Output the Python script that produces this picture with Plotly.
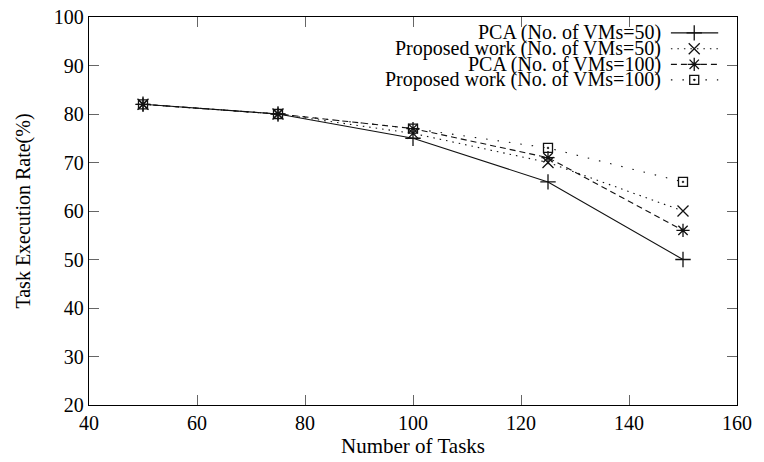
import plotly.graph_objects as go

# Task execution rate (%) against number of tasks
tasks = [50, 75, 100, 125, 150]
pca_50 = [82, 80, 75, 66, 50]
proposed_50 = [82, 80, 76, 70, 60]
pca_100 = [82, 80, 77, 71, 56]
proposed_100 = [82, 80, 77, 73, 66]

series_names = [
    "PCA (No. of VMs=50)",
    "Proposed work (No. of VMs=50)",
    "PCA (No. of VMs=100)",
    "Proposed work (No. of VMs=100)",
]
series_values = [pca_50, proposed_50, pca_100, proposed_100]
dashes = ["solid", "1.5px,5px", "6px,4px", "1.5px,10px"]
symbols = ["cross-thin-open", "x-thin-open", "asterisk-open", "square-open-dot"]
sizes = [11, 11, 11, 9]
ink = "#111111"

FONT = "Liberation Serif"

fig = go.Figure()

for name, vals, dash, sym, sz in zip(series_names, series_values, dashes, symbols, sizes):
    fig.add_trace(go.Scatter(
        x=tasks, y=vals, mode="lines+markers", name=name,
        line=dict(color=ink, width=1.1, dash=dash),
        marker=dict(symbol=sym, size=sz, color=ink, line=dict(color=ink, width=1.3)),
        showlegend=False,
    ))

# Gnuplot-style key: right-aligned labels with line samples to their right
key_y = [0.959, 0.918, 0.878, 0.838]
for name, dash, sym, sz, ky in zip(series_names, dashes, symbols, sizes, key_y):
    fig.add_trace(go.Scatter(
        x=[0.898, 0.934, 0.971], y=[ky, ky, ky], xaxis="x2", yaxis="y2",
        mode="lines+markers",
        line=dict(color=ink, width=1.1, dash=dash),
        marker=dict(symbol=sym, size=sz, color=ink, line=dict(color=ink, width=1.3),
                    opacity=[0, 1, 0]),
        showlegend=False, hoverinfo="skip",
    ))
    fig.add_annotation(
        x=0.886, y=ky, xref="x2", yref="y2", text=name, showarrow=False,
        xanchor="right", yanchor="middle",
        font=dict(family=FONT, size=20, color="black"),
    )

axis_common = dict(
    showgrid=False, zeroline=False, showline=True, linecolor="black", linewidth=1.3,
    mirror="allticks", ticks="inside", ticklen=10, tickcolor="#666666", tickwidth=1,
    tickfont=dict(family=FONT, size=20, color="black"), automargin=False,
)

fig.update_layout(
    width=764, height=462,
    margin=dict(l=89, r=27, t=17, b=57),
    paper_bgcolor="white", plot_bgcolor="white",
    xaxis=dict(range=[40, 160], tick0=40, dtick=20,
               title=dict(text="Number of Tasks", standoff=4,
                          font=dict(family=FONT, size=21, color="black")),
               **axis_common),
    yaxis=dict(range=[20, 100], tick0=20, dtick=10,
               title=dict(text="Task Execution Rate(%)", standoff=17,
                          font=dict(family=FONT, size=20, color="black")),
               **axis_common),
    xaxis2=dict(range=[0, 1], overlaying="x", visible=False, fixedrange=True),
    yaxis2=dict(range=[0, 1], overlaying="y", visible=False, fixedrange=True),
)

fig.write_html("out.html")
